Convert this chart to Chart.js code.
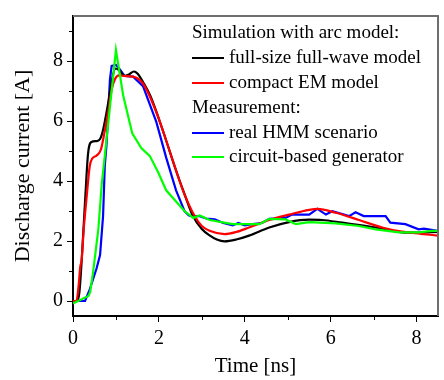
<!DOCTYPE html>
<html>
<head>
<meta charset="utf-8">
<script src="https://cdn.jsdelivr.net/npm/chart.js@4/dist/chart.umd.min.js"></script>
<style>
html,body{margin:0;padding:0;background:#fff;}
#wrap{width:444px;height:380px;position:relative;}
</style>
</head>
<body>
<div id="wrap"><canvas id="c" width="444" height="380"></canvas></div>
<script>
// ---- data ----
const seriesLabels = ["full-size full-wave model", "compact EM model", "real HMM scenario", "circuit-based generator"];
const seriesColors = ["#000000", "#ff0000", "#0000ff", "#00ff00"];
const legendHeaders = ["Simulation with arc model:", "Measurement:"];

const tFull = [0, 0.1, 0.15, 0.2, 0.28, 0.35, 0.43, 0.55, 0.63, 0.7, 0.82, 0.9, 0.98, 1.07, 1.2, 1.3, 1.42, 1.5, 1.65, 1.8, 2.1, 2.4, 2.6, 2.79, 3.0, 3.18, 3.35, 3.53, 3.8, 4.1, 4.57, 5.03, 5.5, 5.8, 6.27, 7.05, 7.66, 8.05, 8.5];
const iFull = [0, 0, 0.3, 1.3, 3.3, 4.9, 5.3, 5.33, 5.4, 5.7, 6.6, 7.3, 7.75, 7.7, 7.5, 7.55, 7.65, 7.58, 7.25, 6.84, 5.65, 4.35, 3.55, 2.84, 2.4, 2.19, 2.05, 1.99, 2.05, 2.18, 2.45, 2.63, 2.71, 2.7, 2.61, 2.45, 2.29, 2.28, 2.3];

const tCompact = [0, 0.08, 0.13, 0.17, 0.2, 0.25, 0.32, 0.39, 0.45, 0.55, 0.65, 0.73, 0.82, 0.9, 0.98, 1.07, 1.2, 1.4, 1.63, 1.94, 2.25, 2.56, 2.83, 3.0, 3.18, 3.53, 3.8, 4.1, 4.57, 5.03, 5.5, 5.7, 6.12, 6.66, 7.2, 7.66, 8.1, 8.5];
const iCompact = [0, 0, 0.5, 1.15, 1.35, 2.4, 3.5, 4.5, 4.75, 4.85, 5.05, 5.6, 6.3, 7.05, 7.4, 7.52, 7.5, 7.48, 7.25, 6.3, 5.0, 3.69, 2.84, 2.5, 2.34, 2.23, 2.3, 2.45, 2.7, 2.88, 3.04, 3.07, 2.94, 2.7, 2.45, 2.31, 2.24, 2.18];

const tHMM = [0, 0.28, 0.39, 0.55, 0.63, 0.7, 0.74, 0.78, 0.86, 0.9, 1.0, 1.1, 1.2, 1.4, 1.63, 1.94, 2.17, 2.4, 2.6, 2.7, 2.79, 2.95, 3.1, 3.3, 3.5, 3.72, 3.85, 4.0, 4.18, 4.4, 4.57, 4.95, 5.1, 5.5, 5.69, 5.89, 6.04, 6.43, 6.58, 6.77, 7.28, 7.39, 7.74, 8.05, 8.17, 8.5];
const iHMM = [0, 0, 0.39, 1.09, 1.53, 2.83, 4.5, 5.2, 7.38, 7.84, 7.87, 7.7, 7.5, 7.48, 7.16, 5.97, 4.78, 3.69, 2.99, 2.85, 2.83, 2.83, 2.75, 2.72, 2.6, 2.52, 2.6, 2.52, 2.56, 2.6, 2.74, 2.77, 2.88, 2.88, 3.07, 2.88, 2.99, 2.83, 2.96, 2.83, 2.83, 2.61, 2.56, 2.39, 2.41, 2.34];

const tGen = [0, 0.36, 0.4, 0.47, 0.59, 0.67, 0.7, 1.0, 1.17, 1.38, 1.59, 1.79, 1.98, 2.17, 2.4, 2.6, 2.75, 2.8, 2.95, 3.18, 3.72, 4.34, 4.57, 4.95, 5.19, 5.5, 6.12, 6.66, 7.05, 7.59, 8.05, 8.36, 8.5];
const iGen = [-0.08, 0.17, 0.3, 0.99, 2.39, 3.91, 4.3, 8.36, 6.84, 5.59, 5.1, 4.83, 4.3, 3.69, 3.32, 2.99, 2.83, 2.77, 2.85, 2.7, 2.56, 2.56, 2.74, 2.72, 2.56, 2.63, 2.59, 2.5, 2.39, 2.29, 2.29, 2.34, 2.34];

const xMajorTicks = [0, 2, 4, 6, 8];
const xMinorTicks = [1, 3, 5, 7];
const yMajorTicks = [0, 2, 4, 6, 8];
const yMinorTicks = [1, 3, 5, 7, 9];
const xTitle = "Time [ns]";
const yTitle = "Discharge current [A]";

// ---- build ----
const pts = (t, v) => t.map((x, i) => ({x: x, y: v[i]}));
const seriesT = [tFull, tCompact, tHMM, tGen];
const seriesI = [iFull, iCompact, iHMM, iGen];
const smooth = [true, true, false, false];

const datasets = seriesLabels.map((lab, k) => ({
  label: lab,
  data: pts(seriesT[k], seriesI[k]),
  borderColor: seriesColors[k],
  backgroundColor: seriesColors[k],
  borderWidth: 2.2,
  pointRadius: 0,
  fill: false,
  cubicInterpolationMode: smooth[k] ? 'monotone' : 'default',
  tension: 0
}));
datasets[0].order = 2; datasets[1].order = 1; datasets[2].order = 3; datasets[3].order = 0;

const FONT = "'Liberation Serif', 'Times New Roman', serif";

const decor = {
  id: 'decor',
  afterDraw(chart) {
    const ctx = chart.ctx, a = chart.chartArea;
    const xs = chart.scales.x, ys = chart.scales.y;
    ctx.save();
    ctx.strokeStyle = '#6e6e6e';
    ctx.lineWidth = 2;
    ctx.beginPath();
    ctx.moveTo(a.left, a.top); ctx.lineTo(a.right, a.top); ctx.lineTo(a.right, a.bottom);
    ctx.stroke();
    ctx.strokeStyle = '#000';
    ctx.lineWidth = 1;
    ctx.beginPath();
    xMinorTicks.forEach(v => { const p = Math.round(xs.getPixelForValue(v)) + 0.5; ctx.moveTo(p, a.bottom); ctx.lineTo(p, a.bottom + 4); });
    yMinorTicks.forEach(v => { const p = Math.round(ys.getPixelForValue(v)) + 0.5; ctx.moveTo(a.left, p); ctx.lineTo(a.left - 4, p); });
    ctx.stroke();
    ctx.font = "19px " + FONT;
    ctx.textBaseline = 'middle';
    ctx.fillStyle = '#000';
    const lx = 192, rows = [33, 58, 83, 108, 133, 157];
    const items = [{h: legendHeaders[0]}, {s: 0}, {s: 1}, {h: legendHeaders[1]}, {s: 2}, {s: 3}];
    items.forEach((it, r) => {
      const y = rows[r];
      if (it.h !== undefined) {
        ctx.fillText(it.h, lx, y);
      } else {
        ctx.strokeStyle = seriesColors[it.s];
        ctx.lineWidth = 2;
        ctx.beginPath(); ctx.moveTo(lx, y); ctx.lineTo(lx + 32, y); ctx.stroke();
        ctx.fillText(chart.data.datasets[it.s].label, lx + 37, y);
      }
    });
    ctx.restore();
  }
};

new Chart(document.getElementById('c'), {
  type: 'line',
  data: {datasets: datasets},
  options: {
    responsive: false,
    animation: false,
    devicePixelRatio: 1,
    layout: {padding: {top: 7, right: 6, left: 0, bottom: 0}},
    plugins: {legend: {display: false}, tooltip: {enabled: false}},
    scales: {
      x: {
        type: 'linear', min: 0, max: 8.5,
        afterBuildTicks: s => { s.ticks = xMajorTicks.map(v => ({value: v})); },
        afterFit: s => { s.height = 64; },
        grid: {drawOnChartArea: false, drawTicks: true, tickLength: 6, color: '#000', lineWidth: 1},
        border: {display: true, color: '#000', width: 2},
        ticks: {color: '#000', font: {family: FONT, size: 20}, padding: 5, maxRotation: 0},
        title: {display: true, text: xTitle, color: '#000', font: {family: FONT, size: 21}, padding: {top: 0, bottom: 1}}
      },
      y: {
        type: 'linear', min: -0.5, max: 9.5,
        afterBuildTicks: s => { s.ticks = yMajorTicks.map(v => ({value: v})); },
        afterFit: s => { s.width = 73; },
        grid: {drawOnChartArea: false, drawTicks: true, tickLength: 6, color: '#000', lineWidth: 1},
        border: {display: true, color: '#000', width: 2},
        ticks: {color: '#000', font: {family: FONT, size: 20}, padding: 4},
        title: {display: true, text: yTitle, color: '#000', font: {family: FONT, size: 22}, padding: {top: 10, bottom: 2}}
      }
    }
  },
  plugins: [decor]
});
</script>
</body>
</html>
